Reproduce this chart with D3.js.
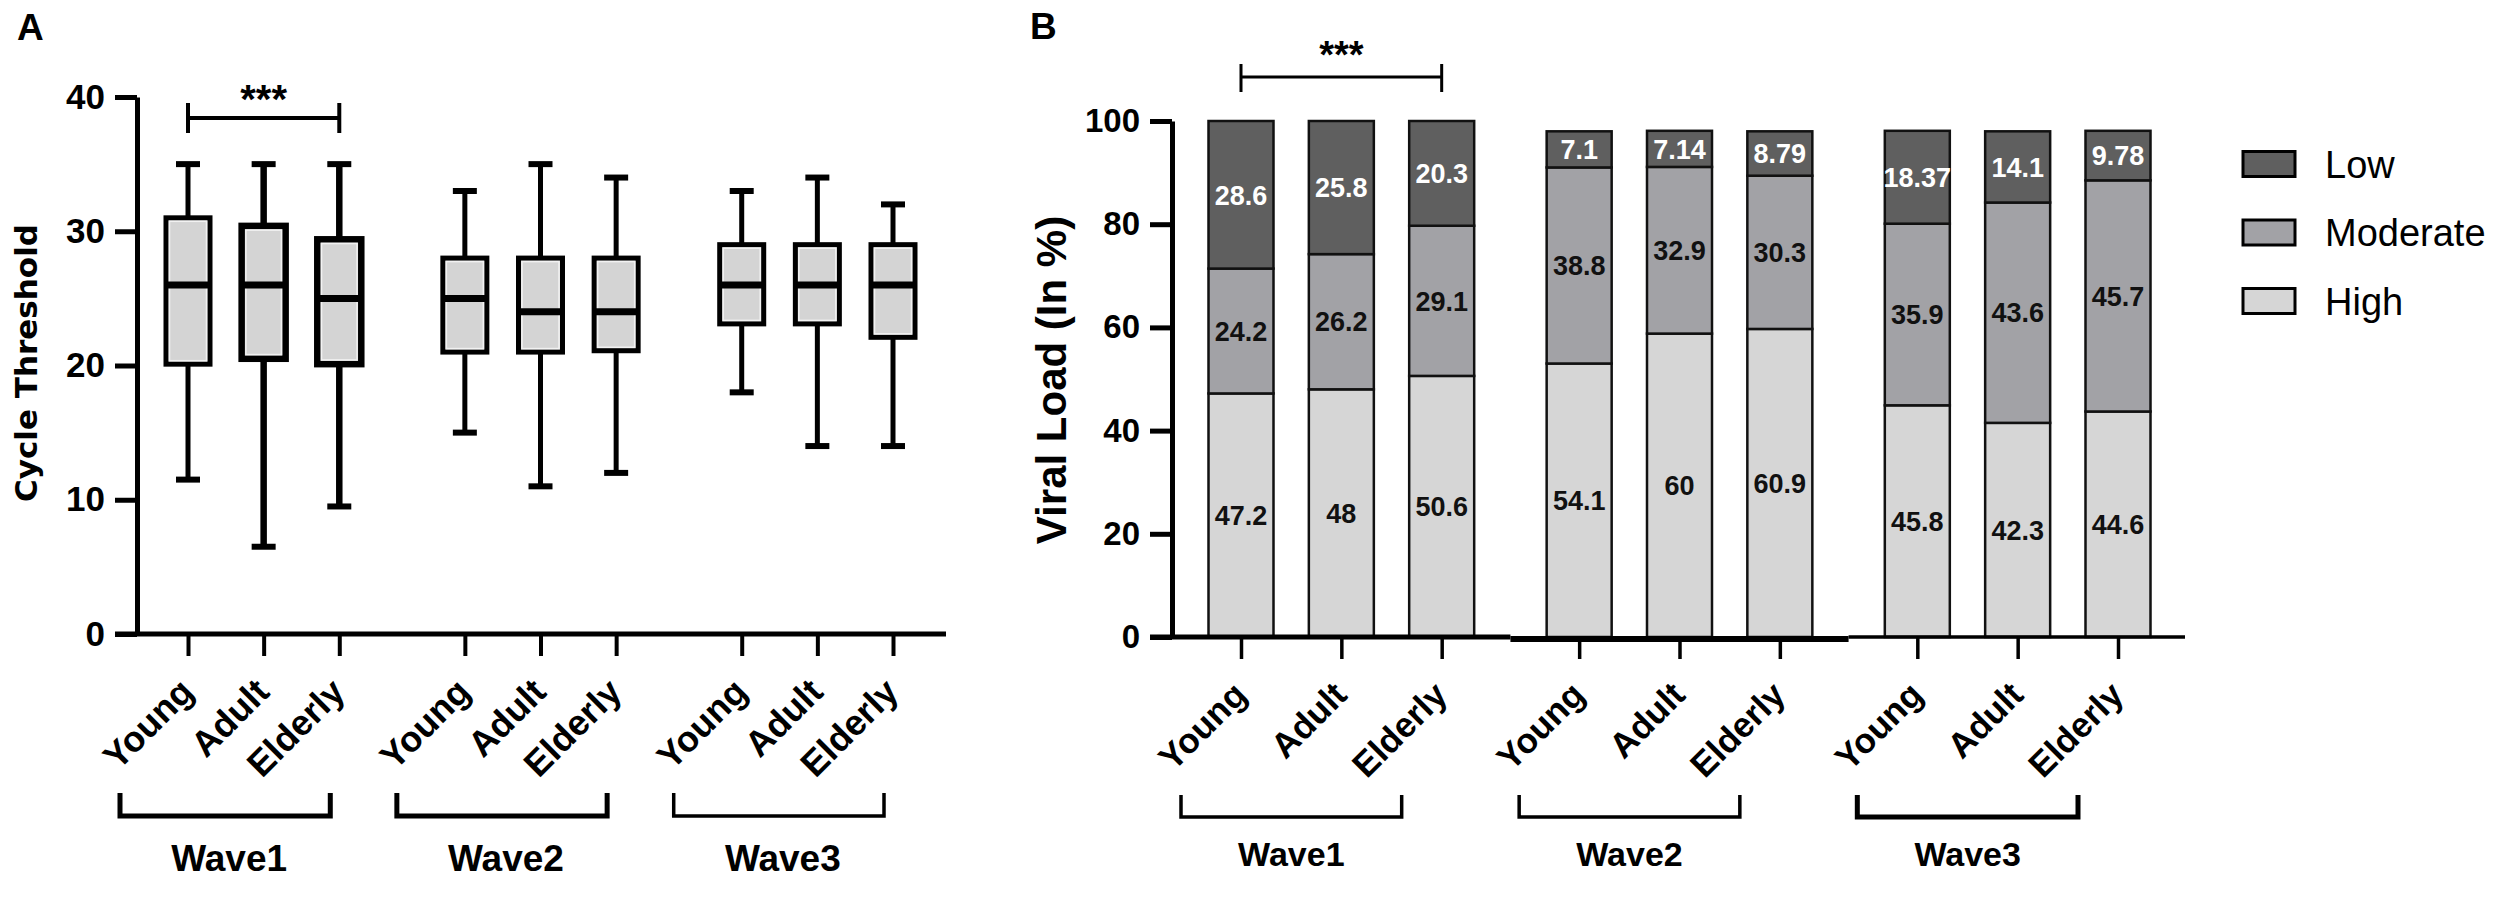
<!DOCTYPE html>
<html>
<head>
<meta charset="utf-8">
<script src="https://cdn.jsdelivr.net/npm/d3@7"></script>
<style>body { margin: 0; background: #fff; }</style>
</head>
<body>
<div id="chart"></div>
<script>
const waves = ["Wave1", "Wave2", "Wave3"];
const ageGroups = ["Young", "Adult", "Elderly"];

// Panel A: cycle threshold box plots (wave1 young..elderly, wave2 ..., wave3 ...)
const ctMax = [35, 35, 35, 33, 35, 34, 33, 34, 32];
const ctQ3 = [31, 30.4, 29.4, 28, 28, 28, 29, 29, 29];
const ctMedian = [26, 26, 25, 25, 24, 24, 26, 26, 26];
const ctQ1 = [20.1, 20.5, 20.1, 21, 21, 21.1, 23.1, 23.1, 22.1];
const ctMin = [11.5, 6.5, 9.5, 15, 11, 12, 18, 14, 14];
const ctTicks = [0, 10, 20, 30, 40];

// Panel B: viral load shares as drawn, plus the printed labels
const levels = ["Low", "Moderate", "High"];
const highShare = [47.2, 48, 50.6, 53.0, 58.8, 59.7, 44.9, 41.5, 43.7];
const moderateShare = [24.2, 26.2, 29.1, 38.0, 32.3, 29.7, 35.2, 42.7, 44.8];
const lowShare = [28.6, 25.8, 20.3, 7.0, 7.0, 8.6, 18.0, 13.8, 9.6];
const highLabels = ["47.2", "48", "50.6", "54.1", "60", "60.9", "45.8", "42.3", "44.6"];
const moderateLabels = ["24.2", "26.2", "29.1", "38.8", "32.9", "30.3", "35.9", "43.6", "45.7"];
const lowLabels = ["28.6", "25.8", "20.3", "7.1", "7.14", "8.79", "18.37", "14.1", "9.78"];
const loadTicks = [0, 20, 40, 60, 80, 100];

const FONT = "'Liberation Sans', Arial, Helvetica, sans-serif";
const width = 2500, height = 899;

const svg = d3.select("#chart").append("svg")
	.attr("width", width)
	.attr("height", height)
	.style("background", "#fff")
	.attr("font-family", FONT);

const groups = d3.range(9).map(i => ({ i: i, wave: Math.floor(i / 3), age: ageGroups[i % 3] }));

// position of a group along the axis, with an extra gap between waves
function slotOf(i, gap) {
	return Math.floor(i / 3) * (3 + gap) + (i % 3);
}

function styleAxisText(g, size) {
	g.attr("font-family", FONT).attr("font-size", size).attr("font-weight", "bold");
	g.selectAll("text").attr("fill", "#000");
	g.selectAll("line").attr("stroke", "#000");
	g.selectAll(".domain").attr("stroke", "#000");
}

// ---------------- Panel A ----------------
const gapA = 0.66;
const axisXA = 137;
const xA = d3.scaleLinear().domain([0, slotOf(8, gapA)]).range([188, 893]);
const yA = d3.scaleLinear().domain([0, 40]).range([634, 97]);
const posA = i => xA(slotOf(i, gapA));
const heavy = i => (i === 1 || i === 2) ? 6.5 : 5;

svg.append("text").attr("x", 17).attr("y", 40)
	.attr("font-size", 37).attr("font-weight", "bold").text("A");

svg.append("text")
	.attr("transform", "translate(26,363) rotate(-90)")
	.attr("text-anchor", "middle").attr("dominant-baseline", "central")
	.attr("font-family", "'DejaVu Sans', Verdana, sans-serif")
	.attr("font-size", 31).attr("font-weight", "bold")
	.text("Cycle Threshold");

const boxes = svg.append("g").selectAll("g").data(groups).join("g");

// whiskers
boxes.append("line")
	.attr("x1", d => posA(d.i)).attr("x2", d => posA(d.i))
	.attr("y1", d => yA(ctMax[d.i])).attr("y2", d => yA(ctQ3[d.i]))
	.attr("stroke", "#000").attr("stroke-width", d => heavy(d.i));
boxes.append("line")
	.attr("x1", d => posA(d.i)).attr("x2", d => posA(d.i))
	.attr("y1", d => yA(ctQ1[d.i])).attr("y2", d => yA(ctMin[d.i]))
	.attr("stroke", "#000").attr("stroke-width", d => heavy(d.i));
// caps
[ctMax, ctMin].forEach(arr => {
	boxes.append("line")
		.attr("x1", d => posA(d.i) - 12).attr("x2", d => posA(d.i) + 12)
		.attr("y1", d => yA(arr[d.i])).attr("y2", d => yA(arr[d.i]))
		.attr("stroke", "#000").attr("stroke-width", 6);
});
// boxes
boxes.append("rect")
	.attr("x", d => posA(d.i) - 22)
	.attr("y", d => yA(ctQ3[d.i]))
	.attr("width", 44)
	.attr("height", d => yA(ctQ1[d.i]) - yA(ctQ3[d.i]))
	.attr("fill", "#d4d4d4")
	.attr("stroke", "#000").attr("stroke-width", d => heavy(d.i));
boxes.append("rect")
	.attr("x", d => posA(d.i) - 22 + heavy(d.i) / 2 + 1)
	.attr("y", d => yA(ctQ3[d.i]) + heavy(d.i) / 2 + 1)
	.attr("width", d => 44 - heavy(d.i) - 2)
	.attr("height", d => yA(ctQ1[d.i]) - yA(ctQ3[d.i]) - heavy(d.i) - 2)
	.attr("fill", "none").attr("stroke", "#f2f2f2").attr("stroke-width", 1.5);
// medians
boxes.append("line")
	.attr("x1", d => posA(d.i) - 22).attr("x2", d => posA(d.i) + 22)
	.attr("y1", d => yA(ctMedian[d.i])).attr("y2", d => yA(ctMedian[d.i]))
	.attr("stroke", "#000").attr("stroke-width", 7);

// y axis
svg.append("g")
	.attr("transform", `translate(${axisXA},0)`)
	.call(d3.axisLeft(yA).tickValues(ctTicks).tickSize(22).tickSizeOuter(0).tickPadding(10))
	.call(g => styleAxisText(g, 35))
	.call(g => g.select(".domain").attr("stroke-width", 5))
	.call(g => g.selectAll(".tick line").attr("stroke-width", 5));

// x axis
svg.append("line")
	.attr("x1", axisXA - 22).attr("x2", posA(8) + 53)
	.attr("y1", yA(0)).attr("y2", yA(0))
	.attr("stroke", "#000").attr("stroke-width", 5);
svg.append("g")
	.attr("transform", `translate(0,${yA(0)})`)
	.call(d3.axisBottom(xA).tickValues(groups.map(d => slotOf(d.i, gapA)))
		.tickSize(22).tickFormat((d, k) => ageGroups[k % 3]))
	.call(g => g.select(".domain").remove())
	.call(g => styleAxisText(g, 36))
	.call(g => g.selectAll(".tick line").attr("stroke-width", 4))
	.call(g => g.selectAll(".tick text")
		.attr("text-anchor", "end").attr("dy", null)
		.attr("x", 7).attr("y", 60)
		.attr("transform", "rotate(-45,7,60)"));

// wave brackets
waves.forEach((w, k) => {
	const l = posA(3 * k) - 68, r = posA(3 * k + 2) - 9;
	svg.append("path")
		.attr("d", `M${l},793V816H${r}V793`)
		.attr("fill", "none").attr("stroke", "#000")
		.attr("stroke-width", k < 2 ? 5 : 3.5);
	svg.append("text")
		.attr("x", (l + r) / 2 + 4).attr("y", 871)
		.attr("text-anchor", "middle")
		.attr("font-size", 37).attr("font-weight", "bold")
		.text(w);
});

// significance
{
	const l = posA(0), r = posA(2);
	svg.append("path")
		.attr("d", `M${l},103V133M${l},118H${r}M${r},103V133`)
		.attr("fill", "none").attr("stroke", "#000").attr("stroke-width", 4);
	svg.append("text").attr("x", (l + r) / 2).attr("y", 113)
		.attr("text-anchor", "middle").attr("font-size", 40).attr("font-weight", "bold")
		.text("***");
}

// ---------------- Panel B ----------------
const gapB = 0.37;
const axisXB = 1172;
const xB = d3.scaleLinear().domain([0, slotOf(8, gapB)]).range([1241, 2118]);
const yB = d3.scaleLinear().domain([0, 100]).range([637, 121]);
const posB = i => xB(slotOf(i, gapB));
const barW = 65;

svg.append("text").attr("x", 1030).attr("y", 39)
	.attr("font-size", 37).attr("font-weight", "bold").text("B");

svg.append("text")
	.attr("transform", "translate(1051,380) rotate(-90)")
	.attr("text-anchor", "middle").attr("dominant-baseline", "central")
	.attr("font-size", 42).attr("font-weight", "bold")
	.text("Viral Load (In %)");

const color = d3.scaleOrdinal().domain(levels).range(["#5f5f5f", "#a2a2a6", "#d6d6d6"]);
const labelText = { High: highLabels, Moderate: moderateLabels, Low: lowLabels };

const table = groups.map(d => ({ High: highShare[d.i], Moderate: moderateShare[d.i], Low: lowShare[d.i] }));
const series = d3.stack().keys(["High", "Moderate", "Low"])(table);

const layers = svg.append("g").selectAll("g").data(series).join("g")
	.attr("fill", s => color(s.key));

layers.selectAll("rect")
	.data(s => s.map((v, i) => ({ v: v, i: i, key: s.key })))
	.join("rect")
	.attr("x", d => posB(d.i) - barW / 2)
	.attr("y", d => yB(d.v[1]))
	.attr("width", barW)
	.attr("height", d => yB(d.v[0]) - yB(d.v[1]))
	.attr("stroke", "#111").attr("stroke-width", 2.5);

layers.selectAll("text")
	.data(s => s.map((v, i) => ({ v: v, i: i, key: s.key })))
	.join("text")
	.attr("x", d => posB(d.i))
	.attr("y", d => yB((d.v[0] + d.v[1]) / 2))
	.attr("dy", "0.36em")
	.attr("text-anchor", "middle")
	.attr("font-size", 27).attr("font-weight", "bold")
	.attr("fill", d => d.key === "Low" ? "#fff" : "#111")
	.text(d => labelText[d.key][d.i]);

// y axis
svg.append("g")
	.attr("transform", `translate(${axisXB},0)`)
	.call(d3.axisLeft(yB).tickValues(loadTicks).tickSize(22).tickSizeOuter(0).tickPadding(10))
	.call(g => styleAxisText(g, 33))
	.call(g => g.select(".domain").attr("stroke-width", 5))
	.call(g => g.selectAll(".tick line").attr("stroke-width", 5));

// x axis, drawn as one piece per wave
const cutsB = [axisXB - 22, (posB(2) + posB(3)) / 2, (posB(5) + posB(6)) / 2, posB(8) + 67];
const segWidth = [5, 6, 3.5], segShift = [0, 2, 0];
waves.forEach((w, k) => {
	svg.append("line")
		.attr("x1", cutsB[k]).attr("x2", cutsB[k + 1])
		.attr("y1", yB(0) + segShift[k]).attr("y2", yB(0) + segShift[k])
		.attr("stroke", "#000").attr("stroke-width", segWidth[k]);
});
svg.append("g")
	.attr("transform", `translate(0,${yB(0)})`)
	.call(d3.axisBottom(xB).tickValues(groups.map(d => slotOf(d.i, gapB)))
		.tickSize(22).tickFormat((d, k) => ageGroups[k % 3]))
	.call(g => g.select(".domain").remove())
	.call(g => styleAxisText(g, 35))
	.call(g => g.selectAll(".tick line").attr("stroke-width", 3.5))
	.call(g => g.selectAll(".tick text")
		.attr("text-anchor", "end").attr("dy", null)
		.attr("x", 7).attr("y", 60)
		.attr("transform", "rotate(-45,7,60)"));

waves.forEach((w, k) => {
	const l = posB(3 * k) - 60, r = posB(3 * k + 2) - 40;
	svg.append("path")
		.attr("d", `M${l},795V817H${r}V795`)
		.attr("fill", "none").attr("stroke", "#000")
		.attr("stroke-width", k < 2 ? 3.5 : 5);
	svg.append("text")
		.attr("x", (l + r) / 2).attr("y", 866)
		.attr("text-anchor", "middle")
		.attr("font-size", 34).attr("font-weight", "bold")
		.text(w);
});

{
	const l = posB(0), r = posB(2);
	svg.append("path")
		.attr("d", `M${l},64V92M${l},77H${r}M${r},64V92`)
		.attr("fill", "none").attr("stroke", "#000").attr("stroke-width", 3);
	svg.append("text").attr("x", (l + r) / 2).attr("y", 68)
		.attr("text-anchor", "middle").attr("font-size", 38).attr("font-weight", "bold")
		.text("***");
}

// legend
const legend = svg.append("g").selectAll("g").data(levels).join("g")
	.attr("transform", (d, k) => `translate(2243,${164 + k * 68.5})`);
legend.append("rect")
	.attr("x", 0).attr("y", -12.5).attr("width", 52).attr("height", 25)
	.attr("fill", d => color(d)).attr("stroke", "#000").attr("stroke-width", 3);
legend.append("text")
	.attr("x", 82).attr("dy", "0.36em")
	.attr("font-size", 38)
	.text(d => d);
</script>
</body>
</html>
